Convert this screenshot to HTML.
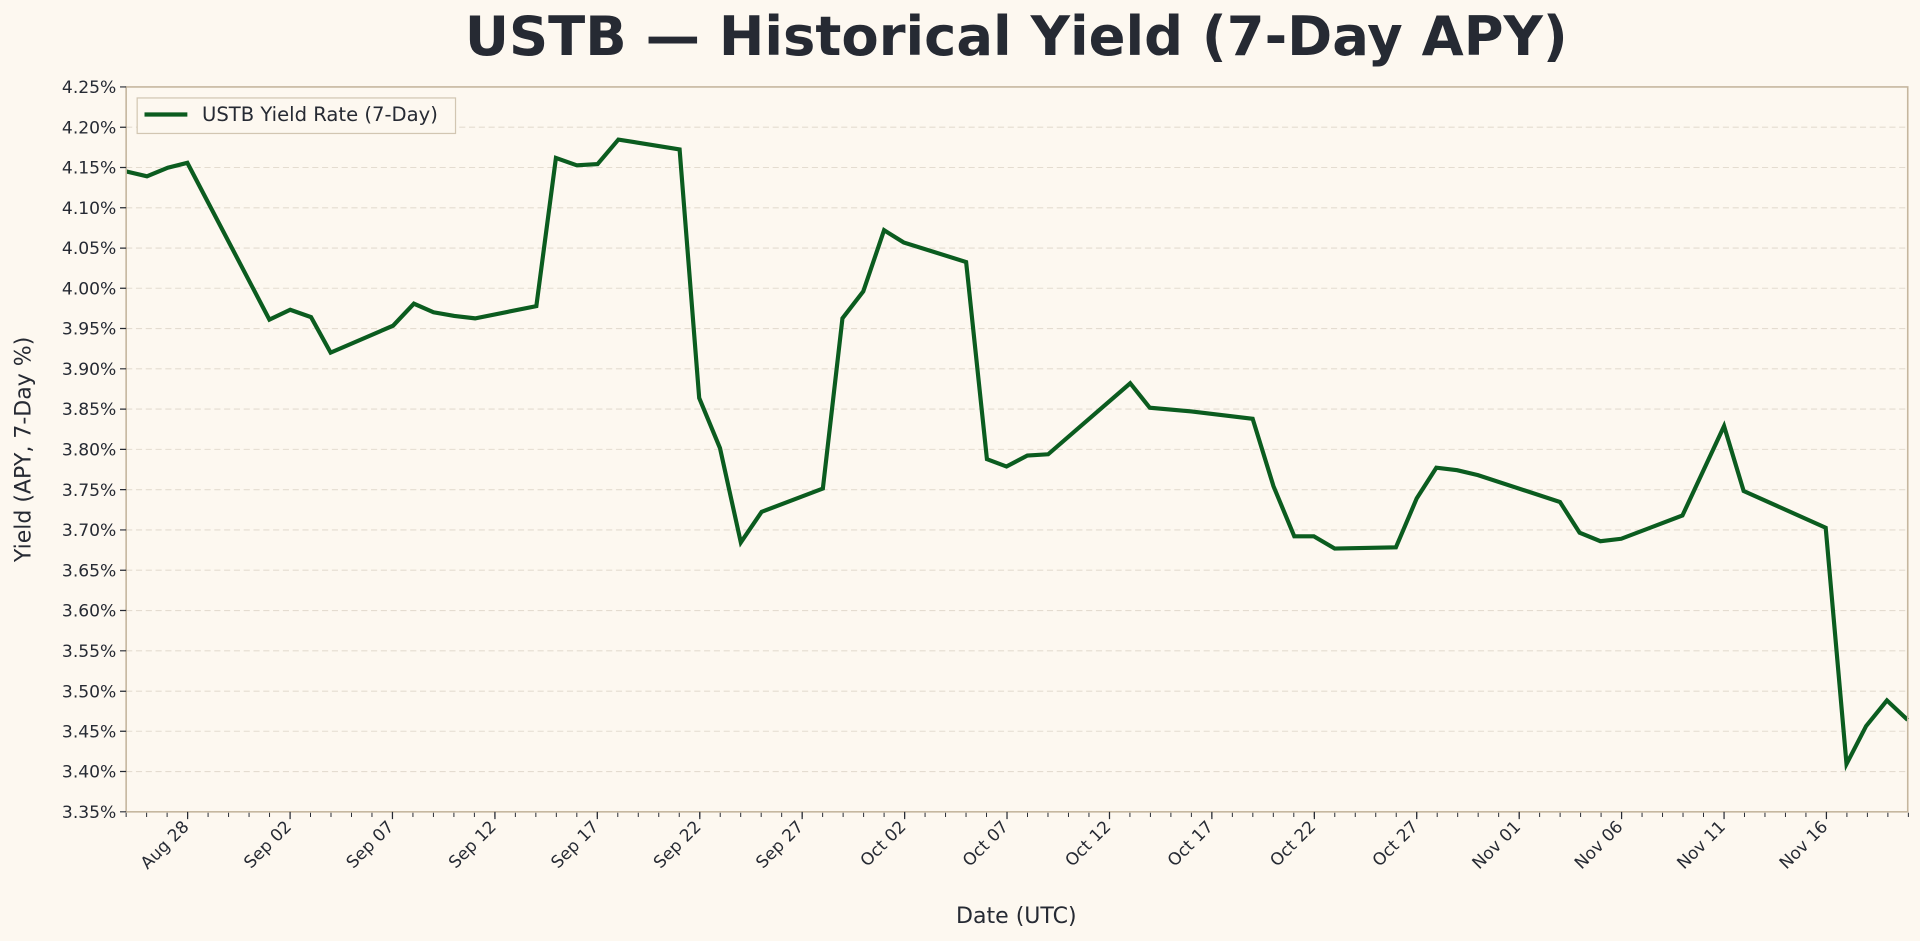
<!DOCTYPE html>
<html><head><meta charset="utf-8"><style>
html,body{margin:0;padding:0;background:#fdf8f0;}
svg{display:block;font-family:"DejaVu Sans","Liberation Sans",sans-serif;}
</style></head><body>
<svg width="1920" height="941" viewBox="0 0 1568 768.5" xmlns="http://www.w3.org/2000/svg">
<rect x="0" y="0" width="1568" height="768.5" fill="#fdf8f0"/>
<text x="830" y="45" text-anchor="middle" font-size="44.4" font-weight="bold" fill="#262a33">USTB — Historical Yield (7-Day APY)</text>
<g stroke="#e4dcd0" stroke-width="0.9" stroke-dasharray="5 3">
<line x1="103" x2="1558" y1="103.9" y2="103.9"/><line x1="103" x2="1558" y1="136.8" y2="136.8"/><line x1="103" x2="1558" y1="169.7" y2="169.7"/><line x1="103" x2="1558" y1="202.6" y2="202.6"/><line x1="103" x2="1558" y1="235.4" y2="235.4"/><line x1="103" x2="1558" y1="268.3" y2="268.3"/><line x1="103" x2="1558" y1="301.2" y2="301.2"/><line x1="103" x2="1558" y1="334.1" y2="334.1"/><line x1="103" x2="1558" y1="367" y2="367"/><line x1="103" x2="1558" y1="399.9" y2="399.9"/><line x1="103" x2="1558" y1="432.8" y2="432.8"/><line x1="103" x2="1558" y1="465.7" y2="465.7"/><line x1="103" x2="1558" y1="498.6" y2="498.6"/><line x1="103" x2="1558" y1="531.5" y2="531.5"/><line x1="103" x2="1558" y1="564.5" y2="564.5"/><line x1="103" x2="1558" y1="597.2" y2="597.2"/><line x1="103" x2="1558" y1="630.1" y2="630.1"/>
</g>
<polyline fill="none" stroke="#0b5c1f" stroke-width="3.4" stroke-linejoin="miter" points="103,140 120,144 137,137 153,133 220,261 237,253 254,259 270,288 321,266 338,248 354,255 371,258 388,260 438,250 454,129 471,135 488,134 505,114 555,122 571,325 588,366 605,443 622,418 672,399 688,260 705,238 722,188 738,198 789,214 806,375 822,381 839,372 856,371 923,313 939,333 973,336 1023,342 1040,397 1057,438 1073,438 1090,448 1140,447 1157,407 1173,382 1190,384 1207,388 1274,410 1290,435 1307,442 1324,440 1374,421 1408,348 1424,401 1491,431 1508,624 1524,593 1541,572 1558,588"/>
<rect x="103" y="71" width="1455" height="592" fill="none" stroke="#c5b69e" stroke-width="1.3"/>
<!-- minor x ticks -->
<line x1="102.6" x2="1560" y1="665.5" y2="665.5" stroke="#262a33" stroke-width="3.5" stroke-dasharray="0.8 15.93"/>
<g stroke="#262a33" stroke-width="1">
<path d="M153.2 663v6M236.9 663v6M320.5 663v6M404.2 663v6M487.8 663v6M571.5 663v6M655.1 663v6M738.8 663v6M822.4 663v6M906.1 663v6M989.7 663v6M1073.4 663v6M1157 663v6M1240.7 663v6M1324.3 663v6M1408 663v6M1491.6 663v6"/>
</g>
<g font-size="13.8" fill="#262a33" text-anchor="end">
<text transform="translate(155,676) rotate(-45)">Aug 28</text>
<text transform="translate(238.7,676) rotate(-45)">Sep 02</text>
<text transform="translate(322.3,676) rotate(-45)">Sep 07</text>
<text transform="translate(406,676) rotate(-45)">Sep 12</text>
<text transform="translate(489.6,676) rotate(-45)">Sep 17</text>
<text transform="translate(573.3,676) rotate(-45)">Sep 22</text>
<text transform="translate(656.9,676) rotate(-45)">Sep 27</text>
<text transform="translate(740.6,676) rotate(-45)">Oct 02</text>
<text transform="translate(824.2,676) rotate(-45)">Oct 07</text>
<text transform="translate(907.9,676) rotate(-45)">Oct 12</text>
<text transform="translate(991.5,676) rotate(-45)">Oct 17</text>
<text transform="translate(1075.2,676) rotate(-45)">Oct 22</text>
<text transform="translate(1158.8,676) rotate(-45)">Oct 27</text>
<text transform="translate(1242.5,676) rotate(-45)">Nov 01</text>
<text transform="translate(1326.1,676) rotate(-45)">Nov 06</text>
<text transform="translate(1409.8,676) rotate(-45)">Nov 11</text>
<text transform="translate(1493.4,676) rotate(-45)">Nov 16</text>
</g>
<g stroke="#262a33" stroke-width="1">
<path d="M98 71h5M98 103.9h5M98 136.8h5M98 169.7h5M98 202.6h5M98 235.4h5M98 268.3h5M98 301.2h5M98 334.1h5M98 367h5M98 399.9h5M98 432.8h5M98 465.7h5M98 498.6h5M98 531.5h5M98 564.5h5M98 597.2h5M98 630.1h5M98 663h5"/>
</g>
<g font-size="14" fill="#262a33" text-anchor="end">
<text x="95" y="76">4.25%</text><text x="95" y="108.9">4.20%</text><text x="95" y="141.8">4.15%</text><text x="95" y="174.7">4.10%</text><text x="95" y="207.6">4.05%</text><text x="95" y="240.4">4.00%</text><text x="95" y="273.3">3.95%</text><text x="95" y="306.2">3.90%</text><text x="95" y="339.1">3.85%</text><text x="95" y="372">3.80%</text><text x="95" y="404.9">3.75%</text><text x="95" y="437.8">3.70%</text><text x="95" y="470.7">3.65%</text><text x="95" y="503.6">3.60%</text><text x="95" y="536.5">3.55%</text><text x="95" y="569.5">3.50%</text><text x="95" y="602.2">3.45%</text><text x="95" y="635.1">3.40%</text><text x="95" y="668">3.35%</text>
</g>
<text transform="translate(25,367) rotate(-90)" text-anchor="middle" font-size="18" fill="#262a33">Yield (APY, 7-Day %)</text>
<text x="830" y="754" text-anchor="middle" font-size="18" fill="#262a33">Date (UTC)</text>
<rect x="112" y="80" width="260" height="29" fill="#fdf8f0" stroke="#d2c6b2" stroke-width="1"/>
<line x1="118" x2="153" y1="93.5" y2="93.5" stroke="#0b5c1f" stroke-width="3.4"/>
<text x="165" y="99" font-size="16" fill="#262a33">USTB Yield Rate (7-Day)</text>
</svg>
</body></html>
